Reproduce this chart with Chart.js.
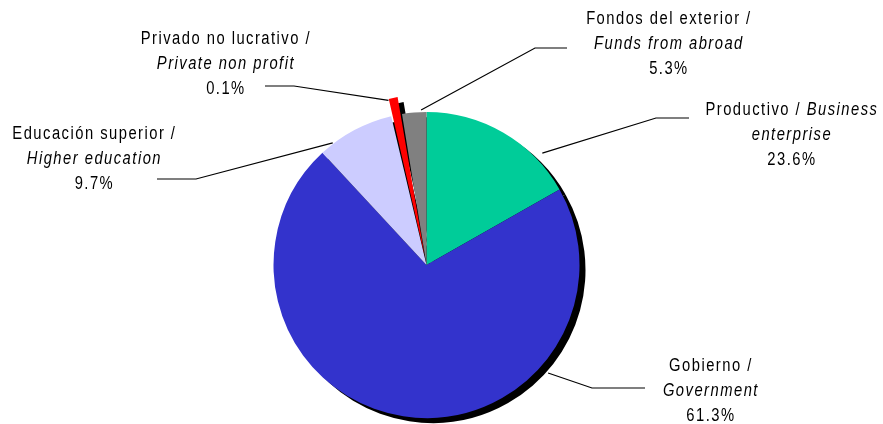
<!DOCTYPE html>
<html><head><meta charset="utf-8">
<script src="https://cdn.jsdelivr.net/npm/chart.js@4/dist/chart.umd.min.js"></script>
<style>html,body{margin:0;padding:0;background:#fff}#wrap{position:relative;width:883px;height:424px}</style>
</head><body><div id="wrap"><canvas id="c"></canvas></div>
<script>
// ---- data ----
const categoriesEs = ['Productivo', 'Gobierno', 'Educación superior', 'Privado no lucrativo', 'Fondos del exterior'];
const categoriesEn = ['Business enterprise', 'Government', 'Higher education', 'Private non profit', 'Funds from abroad'];
const printedShares = ['23.6%', '61.3%', '9.7%', '0.1%', '5.3%'];
// slice sizes as drawn in the reference (percent of the circle)
const sliceShares = [16.78, 71.33, 8.2, 1.15, 2.56];

// ---- styles / layout ----
const sliceColors = ['#00CC99', '#3333CC', '#CCCCFF', '#FF0000', '#808080'];
const sliceOffsets = [0, 0, 0, 36, 0];
const labelLayout = [
  {x: 791, y: 114.5, splitEn: true, elbow: [656, 118], end: 689, anchorDeg: 46, anchorR: 161},
  {x: 710, y: 371, elbow: [592, 388], end: 645, anchorDeg: 131.6, anchorR: 162.6},
  {x: 93.5, y: 139, elbow: [196, 179], end: 157, anchorDeg: -37.5, anchorR: 154},
  {x: 225, y: 44, elbow: [294, 86], end: 265, anchorDeg: -13, anchorR: 169},
  {x: 668, y: 24, elbow: [535, 48], end: 567, anchorDeg: -2, anchorR: 155}
];
const LINE_H = 25;
const FONT_PX = 18;
const LETTER_SP = 1.8;

// pick a condensed font
const mctx = document.createElement('canvas').getContext('2d');
function w(font, t) { mctx.font = font; return mctx.measureText(t).width; }
const probe = 'Fondos del exterior / abcdefghijk';
const hasNarrow = Math.abs(w(FONT_PX + 'px "Liberation Sans Narrow", monospace', probe) - w(FONT_PX + 'px monospace', probe)) > 1;
const FAMILY = hasNarrow ? '"Liberation Sans Narrow"' : '"Liberation Sans", Arial, sans-serif';
const hasLS = ('letterSpacing' in mctx);
const SX = hasNarrow ? 1 : 0.82;
function fontFor(it) { return (it ? 'italic ' : '') + FONT_PX + 'px ' + FAMILY; }

function runWidth(ctx, r) {
  ctx.font = fontFor(r.it);
  if (hasLS) ctx.letterSpacing = LETTER_SP + 'px';
  let rw = ctx.measureText(r.t).width * SX;
  if (!hasLS) rw += LETTER_SP * r.t.length;
  return rw;
}
function drawRuns(ctx, runs, cx, y) {
  let total = 0;
  for (const r of runs) total += runWidth(ctx, r);
  total -= LETTER_SP;
  let x = cx - total / 2;
  for (const r of runs) {
    const rw = runWidth(ctx, r);
    ctx.save(); ctx.translate(x, y); ctx.scale(SX, 1);
    if (hasLS) {
      ctx.fillText(r.t, 0, 0);
    } else {
      let px = 0;
      for (const ch of r.t) { ctx.fillText(ch, px, 0); px += ctx.measureText(ch).width + LETTER_SP / SX; }
    }
    ctx.restore();
    x += rw;
  }
  if (hasLS) ctx.letterSpacing = '0px';
}

const shadowPlugin = {
  id: 'shadow',
  beforeDatasetsDraw(chart) {
    const ctx = chart.ctx;
    const meta = chart.getDatasetMeta(0);
    ctx.save();
    ctx.translate(6, 5);
    for (const arc of meta.data) {
      const s = Object.create(arc);
      const o = Object.create(arc.options);
      Object.defineProperty(o, 'backgroundColor', {value: '#000'});
      Object.defineProperty(o, 'borderColor', {value: '#000'});
      Object.defineProperty(s, 'options', {value: o});
      arc.draw.call(s, ctx);
    }
    ctx.restore();
  }
};

const labelPlugin = {
  id: 'labels',
  afterDatasetsDraw(chart) {
    const ctx = chart.ctx;
    const meta = chart.getDatasetMeta(0);
    const cx = meta.data[0].x, cy = meta.data[0].y;
    ctx.save();
    ctx.strokeStyle = '#000';
    ctx.lineWidth = 1.2;
    labelLayout.forEach((L) => {
      const a = L.anchorDeg * Math.PI / 180;
      const ax = cx + L.anchorR * Math.sin(a), ay = cy - L.anchorR * Math.cos(a);
      ctx.beginPath();
      ctx.moveTo(ax, ay);
      ctx.lineTo(L.elbow[0], L.elbow[1]);
      ctx.lineTo(L.end, L.elbow[1]);
      ctx.stroke();
    });
    ctx.fillStyle = '#000';
    ctx.textBaseline = 'alphabetic';
    ctx.textAlign = 'left';
    labelLayout.forEach((L, i) => {
      let lines;
      if (L.splitEn) {
        const words = categoriesEn[i].split(' ');
        lines = [
          [{t: categoriesEs[i] + ' / ', it: false}, {t: words[0], it: true}],
          [{t: words.slice(1).join(' '), it: true}],
          [{t: printedShares[i], it: false}]
        ];
      } else {
        lines = [
          [{t: categoriesEs[i] + ' /', it: false}],
          [{t: categoriesEn[i], it: true}],
          [{t: printedShares[i], it: false}]
        ];
      }
      lines.forEach((runs, k) => drawRuns(ctx, runs, L.x, L.y + k * LINE_H));
    });
    ctx.restore();
  }
};

new Chart(document.getElementById('c'), {
  type: 'pie',
  data: {
    labels: categoriesEs,
    datasets: [{
      data: sliceShares,
      backgroundColor: sliceColors,
      borderWidth: 0,
      offset: sliceOffsets,
      hoverOffset: 0,
      radius: 153
    }]
  },
  options: {
    responsive: true,
    maintainAspectRatio: false,
    animation: false,
    events: [],
    radius: 153,
    layout: {padding: {top: 112, bottom: 6, left: 100, right: 130}},
    plugins: {legend: {display: false}, tooltip: {enabled: false}}
  },
  plugins: [shadowPlugin, labelPlugin]
});
</script>
</body></html>
